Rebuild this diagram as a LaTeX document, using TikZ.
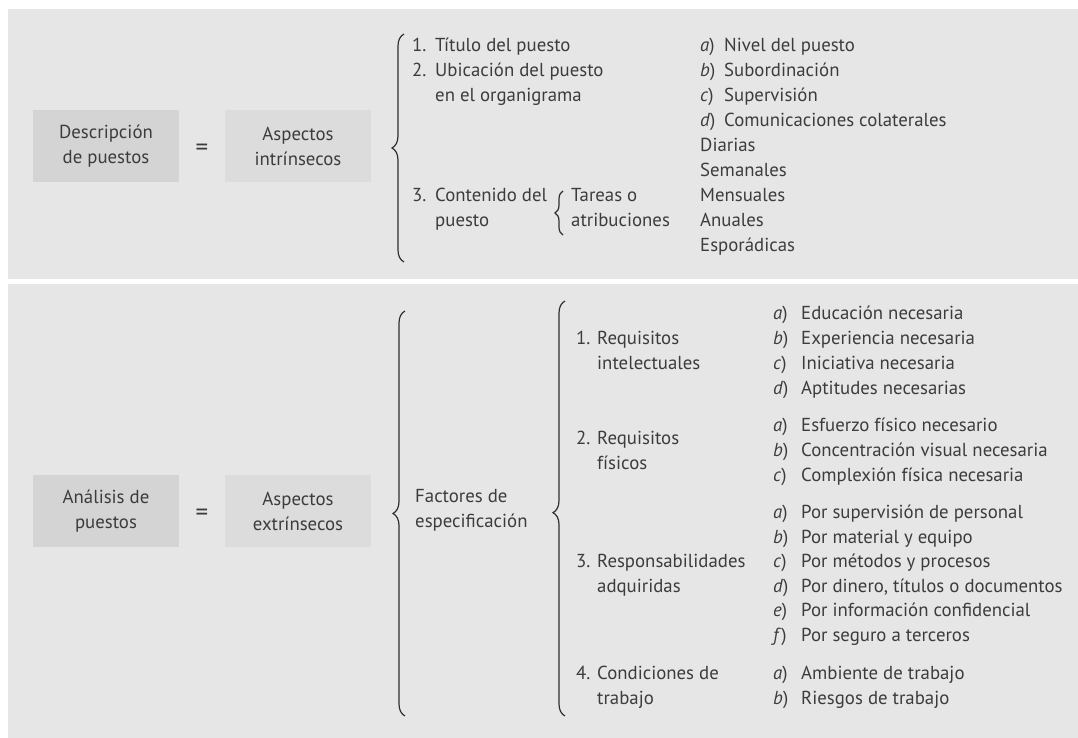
\documentclass[tikz,border=0pt]{standalone}
\usepackage{fontspec}
\setmainfont{PT Sans}
\usetikzlibrary{decorations.pathreplacing}

\definecolor{panel}{HTML}{E6E6E6}
\definecolor{boxdark}{HTML}{D4D4D4}
\definecolor{boxlight}{HTML}{DCDCDC}
\definecolor{ink}{HTML}{3C3C3C}
\definecolor{braceink}{HTML}{2E2E2E}

% label of fixed width followed by the entry text
\newcommand{\enumlabel}[3]{\makebox[#1][l]{#2}#3}

\begin{document}
\begin{tikzpicture}[x=1pt,y=-1pt,
  every node/.style={text=ink, font=\fontsize{18.8}{25}\selectfont},
  txt/.style={anchor=mid west, inner sep=0pt},
  equals/.style={font=\fontsize{25}{25}\selectfont},
  concept/.style={minimum width=146pt, minimum height=72pt, inner sep=0pt,
                  align=center, fill=#1},
  curly/.style 2 args={draw=braceink, line width=1.2pt, decorate,
                  decoration={brace, amplitude=#1, aspect=#2}},
]
\useasboundingbox (0,0) rectangle (1078,738);
\fill[white] (0,0) rectangle (1078,738);

% two panels
\fill[panel] (8,9) rectangle (1078,279);
\fill[panel] (8,284) rectangle (1078,738);

% ---------- upper panel: job description ----------
\node[concept=boxdark]  (desc) at (106,146) {Descripción\\de puestos};
\node[equals] (eq1) at (202,150) {=};
\node[concept=boxlight] (intr) at (298,146) {Aspectos\\intrínsecos};

\coordinate (bA1) at (404,262);
\coordinate (bA2) at (404,34);
\draw[curly={12pt}{0.5}] (bA1) -- (bA2);

\node[txt] (t1)  at (412,49)  {\enumlabel{23pt}{1.}{Título del puesto}};
\node[txt] (t2)  at (412,74)  {\enumlabel{23pt}{2.}{Ubicación del puesto}};
\node[txt] (t2b) at (435,99)  {en el organigrama};
\node[txt] (t3)  at (412,199) {\enumlabel{23pt}{3.}{Contenido del}};
\node[txt] (t3b) at (435,224) {puesto};

\coordinate (bB1) at (563,235);
\coordinate (bB2) at (563,191);
\draw[curly={8pt}{0.5}] (bB1) -- (bB2);

\node[txt] (tar)  at (571,199) {Tareas o};
\node[txt] (tarb) at (571,224) {atribuciones};

\node[txt] (la) at (700,49)  {\enumlabel{24pt}{\textit{a})}{Nivel del puesto}};
\node[txt] (lb) at (700,74)  {\enumlabel{24pt}{\textit{b})}{Subordinación}};
\node[txt] (lc) at (700,99)  {\enumlabel{24pt}{\textit{c})}{Supervisión}};
\node[txt] (ld) at (700,124) {\enumlabel{24pt}{\textit{d})}{Comunicaciones colaterales}};
\node[txt] (f1) at (700,149) {Diarias};
\node[txt] (f2) at (700,174) {Semanales};
\node[txt] (f3) at (700,199) {Mensuales};
\node[txt] (f4) at (700,224) {Anuales};
\node[txt] (f5) at (700,249) {Esporádicas};

% ---------- lower panel: job analysis ----------
\node[concept=boxdark]  (anal) at (106,511) {Análisis de\\puestos};
\node[equals] (eq2) at (202,515) {=};
\node[concept=boxlight] (extr) at (298,511) {Aspectos\\extrínsecos};

\coordinate (bC1) at (405,716);
\coordinate (bC2) at (405,311);
\draw[curly={12pt}{0.5}] (bC1) -- (bC2);

\node[txt] (fac)  at (415,500) {Factores de};
\node[txt] (facb) at (415,525) {especificación};

\coordinate (bD1) at (565,716);
\coordinate (bD2) at (565,301);
\draw[curly={12pt}{0.49}] (bD1) -- (bD2);

\node[txt] (r1)  at (576,342)   {\enumlabel{21pt}{1.}{Requisitos}};
\node[txt] (r1b) at (597,367)   {intelectuales};
\node[txt] (r2)  at (576,441.5) {\enumlabel{21pt}{2.}{Requisitos}};
\node[txt] (r2b) at (597,466.5) {físicos};
\node[txt] (r3)  at (576,565)   {\enumlabel{21pt}{3.}{Responsabilidades}};
\node[txt] (r3b) at (597,590)   {adquiridas};
\node[txt] (r4)  at (576,677)   {\enumlabel{21pt}{4.}{Condiciones de}};
\node[txt] (r4b) at (597,702)   {trabajo};

\node[txt] (ia) at (773,317) {\enumlabel{28pt}{\textit{a})}{Educación necesaria}};
\node[txt] (ib) at (773,342) {\enumlabel{28pt}{\textit{b})}{Experiencia necesaria}};
\node[txt] (ic) at (773,367) {\enumlabel{28pt}{\textit{c})}{Iniciativa necesaria}};
\node[txt] (id) at (773,392) {\enumlabel{28pt}{\textit{d})}{Aptitudes necesarias}};

\node[txt] (pa) at (773,428.5) {\enumlabel{28pt}{\textit{a})}{Esfuerzo físico necesario}};
\node[txt] (pb) at (773,453.5) {\enumlabel{28pt}{\textit{b})}{Concentración visual necesaria}};
\node[txt] (pc) at (773,478.5) {\enumlabel{28pt}{\textit{c})}{Complexión física necesaria}};

\node[txt] (sa) at (773,516)   {\enumlabel{28pt}{\textit{a})}{Por supervisión de personal}};
\node[txt] (sb) at (773,540.5) {\enumlabel{28pt}{\textit{b})}{Por material y equipo}};
\node[txt] (sc) at (773,565)   {\enumlabel{28pt}{\textit{c})}{Por métodos y procesos}};
\node[txt] (sd) at (773,589.5) {\enumlabel{28pt}{\textit{d})}{Por dinero, títulos o documentos}};
\node[txt] (se) at (773,614)   {\enumlabel{28pt}{\textit{e})}{Por información confidencial}};
\node[txt] (sf) at (773,638.5) {\enumlabel{28pt}{\textit{f})}{Por seguro a terceros}};

\node[txt] (wa) at (773,677) {\enumlabel{28pt}{\textit{a})}{Ambiente de trabajo}};
\node[txt] (wb) at (773,702) {\enumlabel{28pt}{\textit{b})}{Riesgos de trabajo}};
\end{tikzpicture}
\end{document}
